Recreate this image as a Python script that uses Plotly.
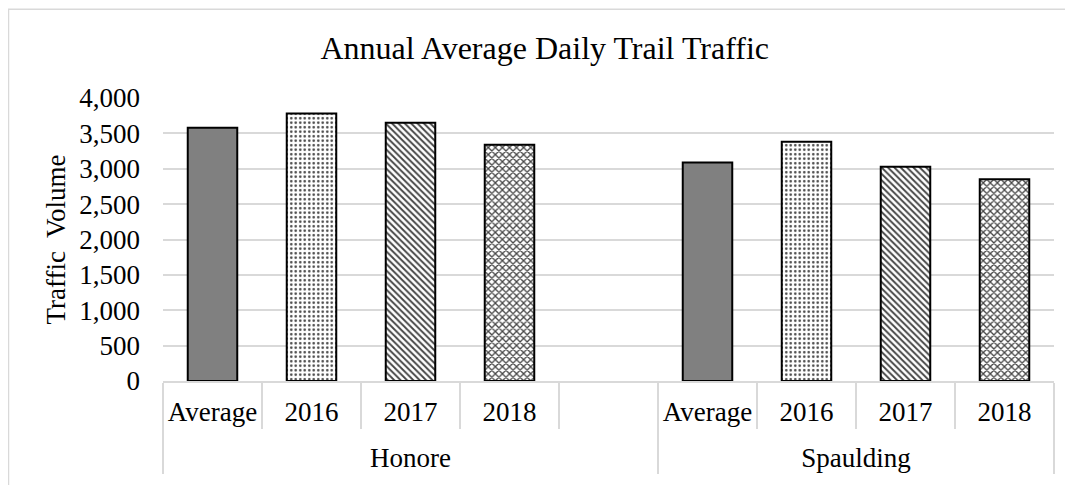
import plotly.graph_objects as go

# trail counter data
groups = ["Honore"] * 5 + ["Spaulding"] * 4
periods = ["Average", "2016", "2017", "2018", " ", "Average", "2016", "2017", "2018"]
volumes = [3580, 3780, 3650, 3340, None, 3090, 3380, 3030, 2850]

y_ticks = [0, 500, 1000, 1500, 2000, 2500, 3000, 3500, 4000]

fill_for = {"Average": "#808080", "2016": "white", "2017": "white", "2018": "white", " ": "white"}
shape_for = {"Average": "", "2016": ".", "2017": "\\", "2018": "x", " ": ""}
size_for = {"Average": 5, "2016": 4.5, "2017": 4.5, "2018": 5, " ": 5}
solid_for = {"Average": 0.4, "2016": 0.25, "2017": 0.42, "2018": 0.45, " ": 0.4}

font = "Liberation Serif"
grid = "#d9d9d9"

# the empty slot gets a tall invisible label so the group row sits lower, like Excel
spacer = "<span style='font-size:45px;color:rgba(0,0,0,0)'>.</span>"
x_labels = [spacer if p == " " else p for p in periods]

fig = go.Figure()
fig.add_trace(go.Bar(
    x=[groups, x_labels],
    y=volumes,
    width=0.5,
    marker=dict(
        color=[fill_for[p] for p in periods],
        line=dict(color="black", width=2),
        pattern=dict(
            shape=[shape_for[p] for p in periods],
            fgcolor="black",
            bgcolor="white",
            fgopacity=1,
            size=[size_for[p] for p in periods],
            solidity=[solid_for[p] for p in periods],
        ),
    ),
    showlegend=False,
))

# page body has an 8px margin, so the figure is a bit smaller than the window
fig.update_layout(
    width=1065,
    height=477,
    margin=dict(l=155, r=19, t=90, b=104),
    paper_bgcolor="white",
    plot_bgcolor="white",
    font=dict(family=font, size=27, color="black"),
    title=dict(
        text="Annual Average Daily Trail Traffic",
        font=dict(family=font, size=32, color="black"),
        xref="container", x=0.504, xanchor="center",
        yref="container", y=0.916, yanchor="middle",
    ),
    shapes=[dict(
        type="rect", xref="paper", yref="paper",
        x0=-0.1734, x1=1.2, y0=-0.6, y1=1.314,
        line=dict(color=grid, width=1.5), layer="below",
    )],
)

fig.update_xaxes(
    type="multicategory",
    showline=True, linecolor=grid, linewidth=1.5,
    ticks="outside", ticklen=46, tickcolor=grid, tickwidth=1.5,
    ticklabelstandoff=6,
    showdividers=True, dividercolor=grid, dividerwidth=1.5,
    tickfont=dict(family=font, size=27, color="black"),
    showgrid=False,
)

fig.update_yaxes(
    range=[0, 4000],
    tickvals=y_ticks,
    tickformat=",d",
    showgrid=True, gridcolor=grid, gridwidth=1.5,
    zeroline=False,
    ticks="",
    ticklabelstandoff=22,
    tickfont=dict(family=font, size=27, color="black"),
    title=dict(text="Traffic  Volume", standoff=5, font=dict(family=font, size=27, color="black")),
)

fig.write_html("out.html")
